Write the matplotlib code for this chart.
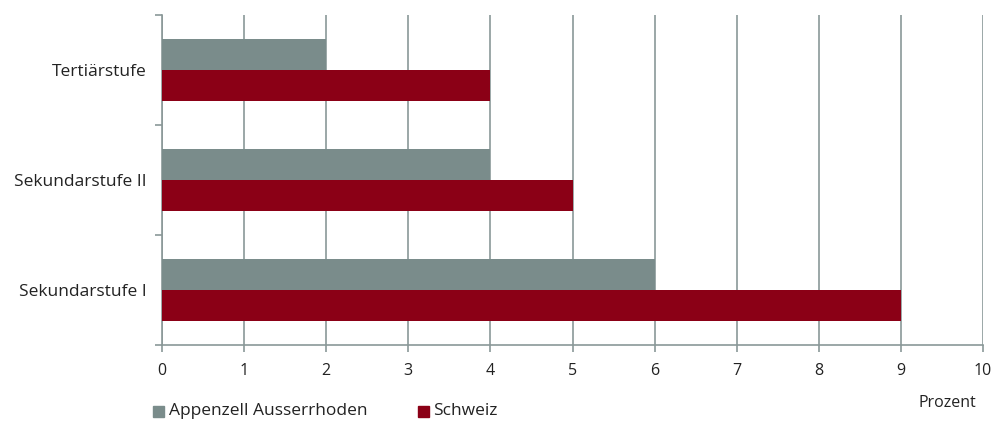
import matplotlib.pyplot as plt
from matplotlib.patches import Rectangle

categories = ['Sekundarstufe I', 'Sekundarstufe II', 'Tertiärstufe']
appenzell = [6, 4, 2]
schweiz = [9, 5, 4]
series_labels = ['Appenzell Ausserrhoden', 'Schweiz']

grey = '#7a8c8b'
red = '#8b0016'
line = '#8a9898'

plt.rcParams['font.family'] = ['Open Sans', 'DejaVu Sans']

fig = plt.figure(figsize=(9.96, 4.21), dpi=100)
ax = fig.add_axes([0.1627, 0.181, 0.8243, 0.783])

y = list(range(len(categories)))
h = 0.28
ax.barh([v + h / 2 for v in y], appenzell, height=h, color=grey, zorder=3)
ax.barh([v - h / 2 for v in y], schweiz, height=h, color=red, zorder=3)

ax.set_xlim(0, 10)
ax.set_ylim(-0.5, 2.5)
ax.set_xticks(range(11))
ax.xaxis.grid(True, color=line, linewidth=1.2, zorder=0)
ax.set_yticks(y)
ax.set_yticklabels(categories, fontsize=12.5, color='#222222')
ax.set_yticks([-0.5, 0.5, 1.5, 2.5], minor=True)
ax.tick_params(axis='y', which='major', length=0, pad=11)
ax.tick_params(axis='y', which='minor', length=5, color=line, width=1.2)
ax.tick_params(axis='x', length=5, color=line, width=1.2, labelsize=11.5,
               pad=8, labelcolor='#222222')
for s in ['top', 'right']:
    ax.spines[s].set_visible(False)
for s in ['left', 'bottom']:
    ax.spines[s].set_color(line)
    ax.spines[s].set_linewidth(1.2)

# legend below the axis
fig.patches.append(Rectangle((153 / 996, 1 - 417 / 421), 11 / 996, 11 / 421,
                             transform=fig.transFigure, color=grey))
fig.text(169 / 996, 1 - 411 / 421, series_labels[0], fontsize=12.5,
         va='center', color='#222222')
fig.patches.append(Rectangle((418 / 996, 1 - 417 / 421), 11 / 996, 11 / 421,
                             transform=fig.transFigure, color=red))
fig.text(433 / 996, 1 - 411 / 421, series_labels[1], fontsize=12.5,
         va='center', color='#222222')
fig.text(918 / 996, 1 - 403 / 421, 'Prozent', fontsize=11.5, va='center',
         color='#222222')

fig.savefig('out.png', dpi=100)
